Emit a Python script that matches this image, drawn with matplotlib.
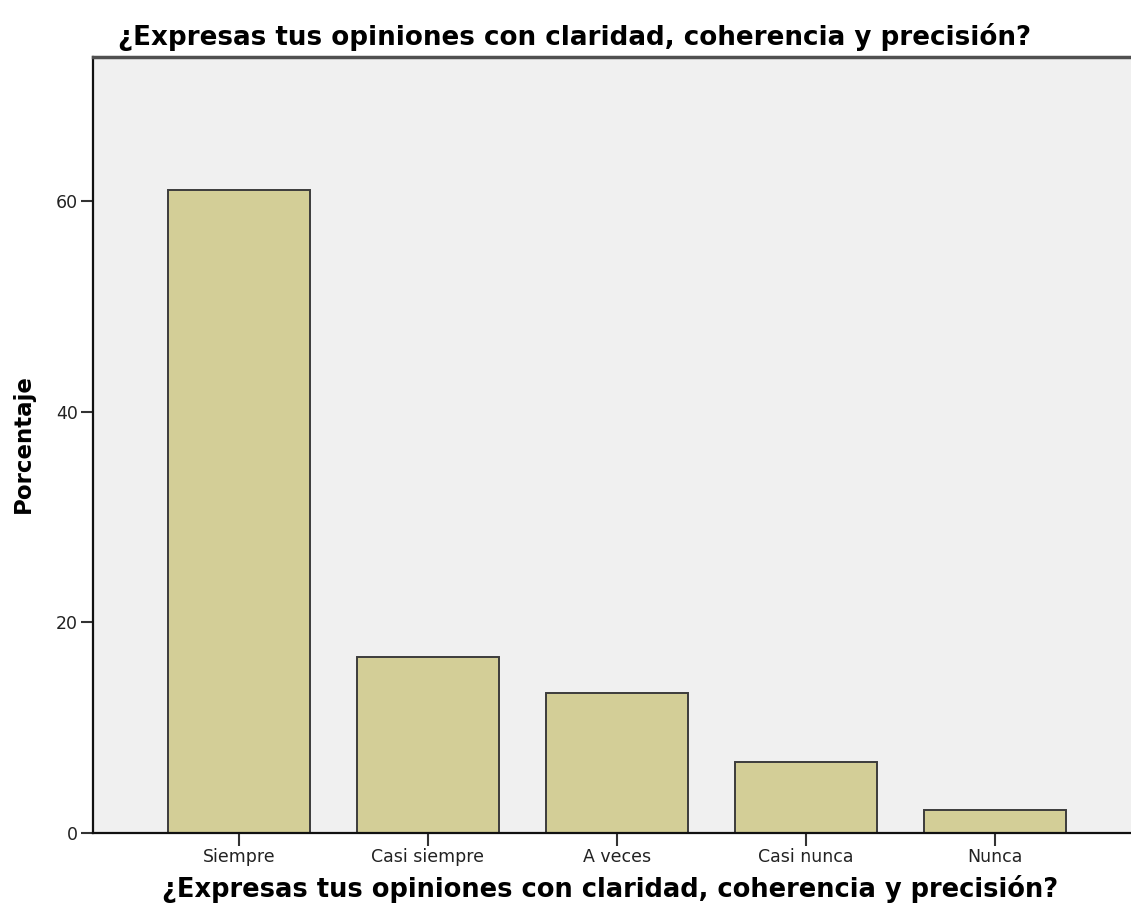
import numpy as np
import matplotlib.pyplot as plt

plt.rcParams['font.family'] = ['DejaVu Sans']

categorias = ["Siempre", "Casi siempre", "A veces", "Casi nunca", "Nunca"]
porcentaje = [61.1, 16.7, 13.3, 6.7, 2.2]
titulo = "¿Expresas tus opiniones con claridad, coherencia y precisión?"

fig = plt.figure(figsize=(11.31, 9.18), dpi=100)
ax = fig.add_axes([93 / 1131, 1 - 833 / 918, 1 - 93 / 1131, 776 / 918])
ax.set_facecolor('#F0F0F0')

x = np.arange(len(categorias))
ax.bar(x, porcentaje, width=0.75, color='#D3CE97', edgecolor='#3C3C3C', linewidth=1.4, zorder=2)

ax.set_xlim(-0.772, 4.72)
ax.set_ylim(0, 73.7)
ax.set_yticks([0, 20, 40, 60])
ax.set_xticks(x)
ax.set_xticklabels(categorias)
ax.tick_params(axis='both', direction='out', length=9, width=1.5, labelsize=12.5,
               colors='#333333', labelcolor='#222222', pad=2)

for s in ['left', 'bottom']:
    ax.spines[s].set_color('#111111')
    ax.spines[s].set_linewidth(1.6)
ax.spines['top'].set_color('#505050')
ax.spines['top'].set_linewidth(2.5)
ax.spines['right'].set_visible(False)

fig.text(23 / 1131, 1 - 444 / 918, "Porcentaje", fontsize=16.5, fontweight='bold',
         rotation=90, ha='center', va='center')
fig.text(610 / 1131, 1 - 897 / 918, titulo, fontsize=18.5, fontweight='bold',
         ha='center', va='baseline')
fig.text(575 / 1131, 1 - 45 / 918, titulo, fontsize=18.8, fontweight='bold',
         ha='center', va='baseline')

fig.savefig("out.png", dpi=100)
